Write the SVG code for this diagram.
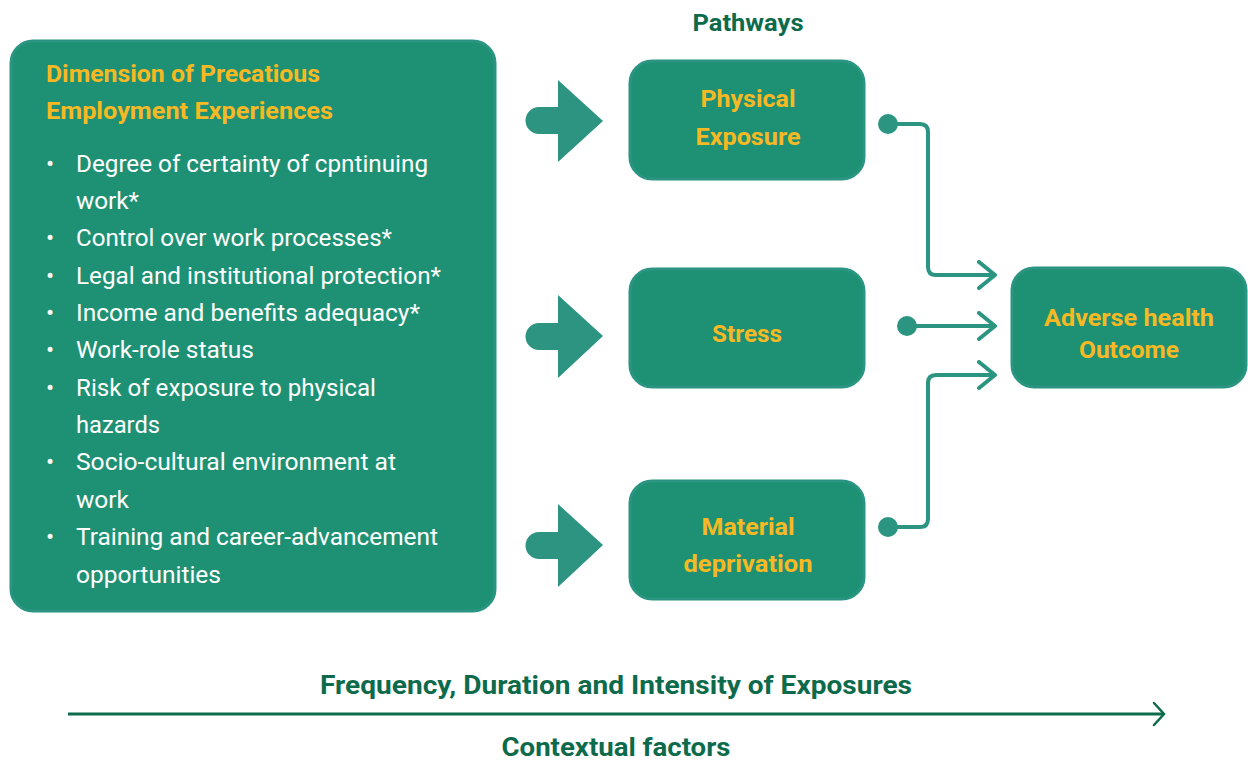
<svg xmlns="http://www.w3.org/2000/svg" width="1248" height="762" viewBox="0 0 1248 762">
<style>
.box{fill:#1e9174;stroke:#2b9582;stroke-width:3}
.blk{fill:#2d9482}
.lbl{font-family:Roboto,"Liberation Sans",sans-serif;font-weight:700;font-size:24px;fill:#f6b923;text-anchor:middle}
.ttl{font-family:Roboto,"Liberation Sans",sans-serif;font-weight:700;font-size:23px;fill:#f6b923}
.itm{font-family:Roboto,"Liberation Sans",sans-serif;font-size:24px;fill:#ffffff}
.dk{font-family:Roboto,"Liberation Sans",sans-serif;font-weight:700;fill:#0d6b4c;text-anchor:middle}
.con{fill:none;stroke:#2b9582;stroke-width:4;stroke-linejoin:round}
.dot{fill:#2b9582}
</style>
<defs>
<marker id="chev" viewBox="0 0 20 30" refX="18" refY="15" markerWidth="20" markerHeight="30" markerUnits="userSpaceOnUse" orient="auto">
<path d="M2 2 L18 15 L2 28" fill="none" stroke="#2b9582" stroke-width="4" stroke-linecap="round" stroke-linejoin="round"/>
</marker>
<marker id="chev2" viewBox="0 0 14 26" refX="12" refY="13" markerWidth="14" markerHeight="26" markerUnits="userSpaceOnUse" orient="auto">
<path d="M2 2 L12 13 L2 24" fill="none" stroke="#0d6b4c" stroke-width="2.5" stroke-linecap="round"/>
</marker>
</defs>

<g id="dimensions">
<rect class="box" x="11" y="41" width="484" height="570" rx="22"/>
<text class="ttl" x="46" y="82" textLength="274" lengthAdjust="spacingAndGlyphs">Dimension of Precatious</text>
<text class="ttl" x="46" y="119" textLength="287" lengthAdjust="spacingAndGlyphs">Employment Experiences</text>
<g class="itm">
<text x="46" y="172">•</text><text x="76" y="172" textLength="352" lengthAdjust="spacingAndGlyphs">Degree of certainty of cpntinuing</text>
<text x="76" y="209" textLength="63" lengthAdjust="spacingAndGlyphs">work*</text>
<text x="46" y="246">•</text><text x="76" y="246" textLength="316" lengthAdjust="spacingAndGlyphs">Control over work processes*</text>
<text x="46" y="284">•</text><text x="76" y="284" textLength="365" lengthAdjust="spacingAndGlyphs">Legal and institutional protection*</text>
<text x="46" y="321">•</text><text x="76" y="321" textLength="344" lengthAdjust="spacingAndGlyphs">Income and benefits adequacy*</text>
<text x="46" y="358">•</text><text x="76" y="358" textLength="178" lengthAdjust="spacingAndGlyphs">Work-role status</text>
<text x="46" y="396">•</text><text x="76" y="396" textLength="300" lengthAdjust="spacingAndGlyphs">Risk of exposure to physical</text>
<text x="76" y="433" textLength="84" lengthAdjust="spacingAndGlyphs">hazards</text>
<text x="46" y="470">•</text><text x="76" y="470" textLength="320" lengthAdjust="spacingAndGlyphs">Socio-cultural environment at</text>
<text x="76" y="508" textLength="53" lengthAdjust="spacingAndGlyphs">work</text>
<text x="46" y="545">•</text><text x="76" y="545" textLength="362" lengthAdjust="spacingAndGlyphs">Training and career-advancement</text>
<text x="76" y="583" textLength="145" lengthAdjust="spacingAndGlyphs">opportunities</text>
</g>
</g>

<g id="block-arrows">
<path class="blk" d="M539 107 H558 V80 L603 121 L558 162 V134 H539 A13.5 13.5 0 0 1 539 107 Z"/>
<path class="blk" d="M539 323 H558 V295 L603 336 L558 378 V350 H539 A13.5 13.5 0 0 1 539 323 Z"/>
<path class="blk" d="M539 532 H558 V504 L603 545 L558 587 V559 H539 A13.5 13.5 0 0 1 539 532 Z"/>
</g>

<text class="dk" x="748" y="31" font-size="23" textLength="111" lengthAdjust="spacingAndGlyphs">Pathways</text>

<g id="physical">
<rect class="box" x="630" y="61" width="234" height="118" rx="22"/>
<text class="lbl" x="748" y="107" textLength="95" lengthAdjust="spacingAndGlyphs">Physical</text>
<text class="lbl" x="748" y="145" textLength="105" lengthAdjust="spacingAndGlyphs">Exposure</text>
</g>
<g id="stress">
<rect class="box" x="630" y="269" width="234" height="118" rx="22"/>
<text class="lbl" x="747" y="342" textLength="70" lengthAdjust="spacingAndGlyphs">Stress</text>
</g>
<g id="material">
<rect class="box" x="630" y="481" width="234" height="118" rx="22"/>
<text class="lbl" x="748" y="535" textLength="93" lengthAdjust="spacingAndGlyphs">Material</text>
<text class="lbl" x="748" y="572" textLength="129" lengthAdjust="spacingAndGlyphs">deprivation</text>
</g>
<g id="outcome">
<rect class="box" x="1012" y="268" width="234" height="119" rx="22"/>
<text class="lbl" x="1129" y="326" textLength="170" lengthAdjust="spacingAndGlyphs">Adverse health</text>
<text class="lbl" x="1129" y="358" textLength="100" lengthAdjust="spacingAndGlyphs">Outcome</text>
</g>

<g id="connectors">
<circle class="dot" cx="888" cy="124" r="10"/>
<path class="con" d="M888 124 H920 Q928 124 928 132 V267 Q928 275 936 275 H995" marker-end="url(#chev)"/>
<circle class="dot" cx="907" cy="326" r="10"/>
<path class="con" d="M907 326 H995" marker-end="url(#chev)"/>
<circle class="dot" cx="888" cy="527" r="10"/>
<path class="con" d="M888 527 H920 Q928 527 928 519 V383 Q928 375 936 375 H995" marker-end="url(#chev)"/>
</g>

<g id="timeline">
<text class="dk" x="616" y="694" font-size="26" textLength="592" lengthAdjust="spacingAndGlyphs">Frequency, Duration and Intensity of Exposures</text>
<path d="M68 714 H1164" stroke="#0d6b4c" stroke-width="3" fill="none" marker-end="url(#chev2)"/>
<text class="dk" x="616" y="756" font-size="26" textLength="229" lengthAdjust="spacingAndGlyphs">Contextual factors</text>
</g>
</svg>
